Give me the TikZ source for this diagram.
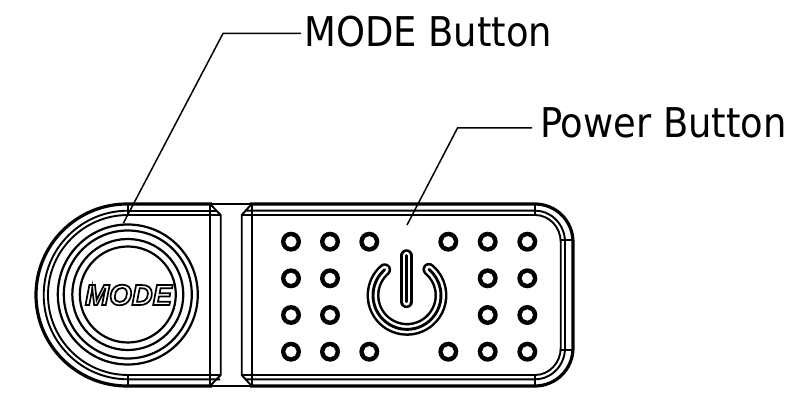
\documentclass[tikz,border=0pt]{standalone}
\usepackage{fontspec}
\setmainfont{DejaVu Sans Condensed}
\newfontfamily\modefont{Liberation Sans}
\tikzset{
  thin line/.style={draw=black,line width=1.9pt},
  heavy/.style={draw=black,line width=3.2pt},
  ring/.style={draw=black,line width=2.2pt},
  leader/.style={draw=black,line width=1.5pt},
  callout/.style={inner sep=0pt,font=\fontsize{41}{41}\selectfont,anchor=west},
}
\newcommand{\dotring}[1]{\fill[black] #1 circle (10); \fill[white] #1 circle (5.6); }
\newcommand{\nested}[1]{%
  \draw[black,line width=12.9pt,line cap=round] #1;
  \draw[white,line width=7.9pt,line cap=round] #1;
  \draw[black,line width=2.9pt,line cap=round] #1;
}
\begin{document}
\begin{tikzpicture}[x=1pt,y=-1pt]
\useasboundingbox (0,0) rectangle (802,411);
% shell
\draw[heavy] (127,204) arc[start angle=-90,end angle=-270,radius=91] -- (535,386)
  arc[start angle=90,end angle=0,radius=38] -- (573,242)
  arc[start angle=0,end angle=-90,radius=38] -- cycle;
\draw[white,line width=3.4pt] (212,204) -- (250,204) (212,386) -- (250,386);
\draw[draw=black,line width=1.2pt] (210,204) -- (252,204) (210,386) -- (252,386);
\draw[thin line] (128,210.7) arc[start angle=-90,end angle=-270,radius=84.3] -- (220,379.3);
\draw[thin line] (128,215) arc[start angle=-90,end angle=-270,radius=80] -- (220,375);
\draw[thin line] (128,210.7) -- (217,210.7) (128,215) -- (220.7,215);
\draw[thin line] (128,204) -- (128,215) (128,375) -- (128,386);
\draw[thin line] (210,204) -- (210,386);
\draw[thin line] (210,204) -- (220.7,215) -- (220.7,375) -- (210,386);
\draw[thin line] (251.7,204) -- (241.7,215) -- (241.7,375) -- (251.7,386);
\draw[thin line] (251.7,204) -- (251.7,386);
% right part
\draw[thin line] (245,210.7) -- (535,210.7) arc[start angle=-90,end angle=0,x radius=30,y radius=31.3]
  -- (565,348) arc[start angle=0,end angle=90,x radius=30,y radius=31.3] -- (245,379.3);
\draw[thin line] (241.7,215) -- (535,215) arc[start angle=-90,end angle=0,x radius=25.7,y radius=27]
  -- (560.7,348) arc[start angle=0,end angle=90,x radius=25.7,y radius=27] -- (241.7,375);
\draw[thin line] (535,204) -- (535,215) (535,375) -- (535,386);
\draw[thin line] (560.7,240) -- (573,240) (560.7,350) -- (573,350);
% mode button
\draw[ring] (127.8,294.5) circle (70);
\draw[ring] (127.8,294.5) circle (64);
\draw[ring] (127.8,294.5) circle (55.5);
\draw[ring] (127.8,294.5) circle (48);
\node[inner sep=0pt] (modetext) at (128.5,295) {\modefont\bfseries\itshape\fontsize{29}{29}\selectfont\special{pdf: code 1 Tr 1.7 w}MODE\special{pdf: code 0 Tr 1 w}};
% dots
\foreach \px/\py in {291/241.7,330/241.7,369.3/241.7,448.3/241.7,487.7/241.7,527.3/241.7,
  291/278.3,330/278.3,487.7/278.3,527.3/278.3,
  291/315,330/315,487.7/315,527.3/315,
  291/351.7,330/351.7,369.3/351.7,448.3/351.7,487.7/351.7,527.3/351.7}{
  \dotring{(\px,\py)}
}
% power symbol
\nested{(384.7,269.7) arc[start angle=-131,end angle=-410,radius=34]}
\nested{(406.5,255.7) -- (406.5,301.7)}
% labels and leaders
\node[callout] (modelabel) at (304,32) {MODE Button};
\node[callout] (powerlabel) at (540,122.5) {Power Button};
\coordinate (modetip) at (123.3,223.3);
\coordinate (modebend) at (223,33.5);
\coordinate (modeend) at (301,33.5);
\coordinate (powertip) at (407,225);
\coordinate (powerbend) at (457.5,128);
\coordinate (powerend) at (532,128);
\draw[leader] (modeend) -- (modebend) -- (modetip);
\draw[leader] (powerend) -- (powerbend) -- (powertip);
\end{tikzpicture}
\end{document}
